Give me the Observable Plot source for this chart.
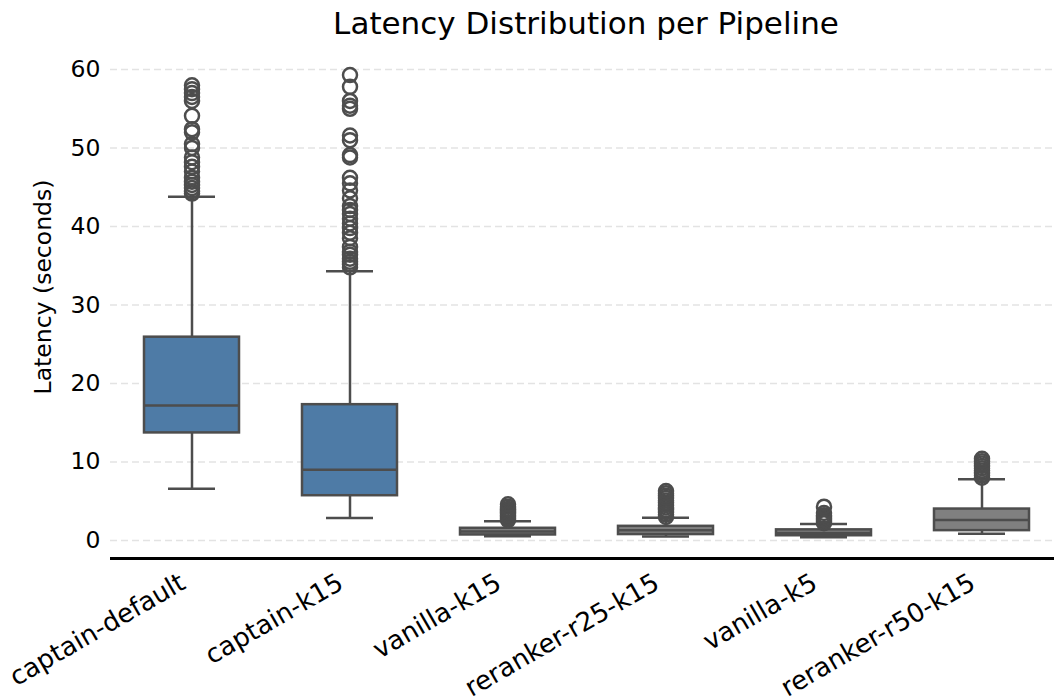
<!DOCTYPE html>
<html><head><meta charset="utf-8">
<script src="https://cdn.jsdelivr.net/npm/d3@7"></script>
<script src="https://cdn.jsdelivr.net/npm/@observablehq/plot@0.6"></script>
<style>
body{margin:0;background:#fff;font-family:"DejaVu Sans",sans-serif;}
#wrap{position:relative;width:1054px;height:696px;overflow:hidden;}
#title{position:absolute;left:286px;width:600px;top:8px;text-align:center;font-size:31px;line-height:31px;color:#000;}
#ylab{position:absolute;left:44px;top:287px;transform:translate(-50%,-50%) rotate(-90deg);font-size:23.5px;line-height:23.5px;white-space:nowrap;color:#000;}
</style></head><body>
<div id="wrap"><div id="chart"></div><div id="title">Latency Distribution per Pipeline</div><div id="ylab">Latency (seconds)</div></div>
<script>
const pipelines = ["captain-default","captain-k15","vanilla-k15","reranker-r25-k15","vanilla-k5","reranker-r50-k15"];
const whiskerLow  = [6.6, 2.85, 0.55, 0.5, 0.4, 0.85];
const q1          = [13.7, 5.7, 0.7, 0.75, 0.6, 1.25];
const median      = [17.2, 9.0, 1.15, 1.3, 0.95, 2.6];
const q3          = [25.9, 17.3, 1.55, 1.8, 1.35, 4.0];
const whiskerHigh = [43.8, 34.3, 2.45, 2.9, 2.1, 7.8];
const boxFill = ["#4e7ba6","#4e7ba6","#808080","#808080","#808080","#808080"];

const outCaptainDefault = [44.2,44.5,44.9,45.3,45.7,46.2,47.0,47.6,48.2,48.8,50.0,50.5,52.0,52.4,54.1,56.0,56.5,57.0,57.5,58.0];
const outCaptainK15 = [34.8,35.2,35.5,35.9,36.4,36.8,37.4,38.5,39.2,39.8,40.4,41.0,41.6,42.1,42.6,43.6,44.6,45.5,46.2,48.8,49.1,51.0,51.6,55.0,55.4,56.0,57.8,59.3];
const outVanillaK15 = [2.6,2.8,3.0,3.2,3.4,3.6,3.8,4.0,4.3,4.6];
const outRerankerR25 = [3.0,3.3,3.6,3.9,4.2,4.5,4.8,5.1,5.4,5.7,6.0,6.3];
const outVanillaK5 = [2.2,2.4,2.6,2.8,3.0,3.2,3.5,4.3];
const outRerankerR50 = [8.0,8.3,8.6,8.9,9.2,9.5,9.8,10.1,10.4];
const outlierLists = [outCaptainDefault,outCaptainK15,outVanillaK15,outRerankerR25,outVanillaK5,outRerankerR50];

const ticksY = [0,10,20,30,40,50,60];

const boxes = pipelines.map((p,i)=>({pipeline:p, lo:whiskerLow[i], q1:q1[i], med:median[i], q3:q3[i], hi:whiskerHigh[i], fill:boxFill[i]}));
const outliers = pipelines.flatMap((p,i)=>outlierLists[i].map(v=>({pipeline:p, value:v})));
const edge = "#4d4d4d";

const chart = Plot.plot({
  width:1054, height:696, marginLeft:110, marginRight:0, marginTop:51, marginBottom:138,
  style:{fontFamily:"DejaVu Sans", fontSize:"23.5px", color:"#000", background:"#fff"},
  x:{domain:pipelines, type:"band", paddingInner:0.4, paddingOuter:0.2, range:[110.6,1063], label:null},
  y:{domain:[-2.3,62.3], label:null},
  color:{type:"identity"},
  marks:[
    Plot.ruleY(ticksY,{stroke:"#e3e3e3", strokeWidth:1.5, strokeDasharray:"7,4"}),
    Plot.axisY(ticksY,{tickSize:0, tickPadding:10, label:null, fontSize:23.5}),
    Plot.axisX({tickRotate:-30, tickSize:0, tickPadding:22, dx:-9, label:null, fontSize:26}),
    Plot.ruleX(boxes,{x:"pipeline", y1:"lo", y2:"q1", stroke:edge, strokeWidth:2.5}),
    Plot.ruleX(boxes,{x:"pipeline", y1:"q3", y2:"hi", stroke:edge, strokeWidth:2.5}),
    Plot.tickY(boxes,{x:"pipeline", y:"lo", stroke:edge, strokeWidth:2.5, insetLeft:24, insetRight:24}),
    Plot.tickY(boxes,{x:"pipeline", y:"hi", stroke:edge, strokeWidth:2.5, insetLeft:24, insetRight:24}),
    Plot.barY(boxes,{x:"pipeline", y1:"q1", y2:"q3", fill:"fill", stroke:edge, strokeWidth:2.5}),
    Plot.tickY(boxes,{x:"pipeline", y:"med", stroke:edge, strokeWidth:2.5}),
    Plot.dot(outliers,{x:"pipeline", y:"value", r:7, stroke:edge, strokeWidth:2.5, fill:"none"}),
    Plot.ruleY([-2.3],{stroke:"#000", strokeWidth:3})
  ]
});
document.getElementById("chart").appendChild(chart);
</script>
</body></html>
